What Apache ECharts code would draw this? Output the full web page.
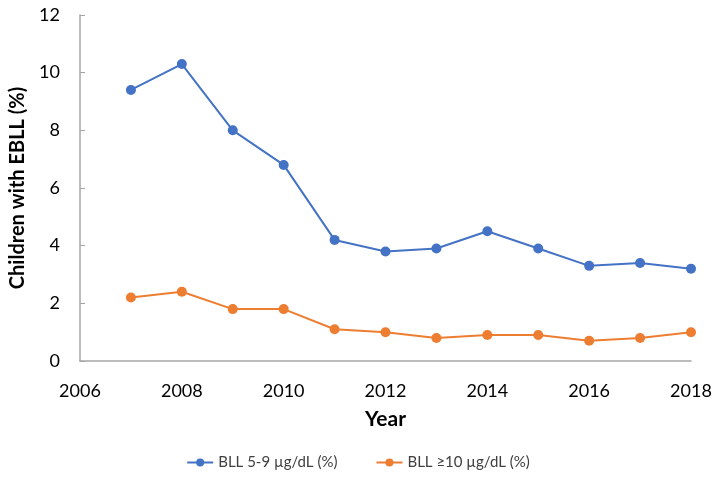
<!DOCTYPE html>
<html>
<head>
<meta charset="utf-8">
<script src="https://cdn.jsdelivr.net/npm/echarts@6/dist/echarts.min.js"></script>
<style>html,body{margin:0;padding:0;background:#fff;}#c{width:716px;height:479px;}</style>
</head>
<body>
<div id="c"></div>
<script>
const years = [2007, 2008, 2009, 2010, 2011, 2012, 2013, 2014, 2015, 2016, 2017, 2018];
const bll59 = [9.4, 10.3, 8.0, 6.8, 4.2, 3.8, 3.9, 4.5, 3.9, 3.3, 3.4, 3.2];
const bll10 = [2.2, 2.4, 1.8, 1.8, 1.1, 1.0, 0.8, 0.9, 0.9, 0.7, 0.8, 1.0];
const seriesNames = ['BLL 5-9 µg/dL (%)', 'BLL ≥10 µg/dL (%)'];
const font = 'Lato, "Open Sans", sans-serif';

const chart = echarts.init(document.getElementById('c'));
chart.setOption({
  animation: false,
  grid: {left: 76, right: 25, top: 15, bottom: 118, containLabel: false},
  legend: {
    bottom: 4, left: 'center', itemGap: 38, itemWidth: 26, itemHeight: 10,
    textStyle: {fontFamily: font, fontSize: 15, color: '#404040'},
    data: seriesNames
  },
  xAxis: {
    type: 'value', min: 2006, max: 2018, interval: 2,
    name: 'Year', nameLocation: 'middle', nameGap: 48,
    nameTextStyle: {fontFamily: font, fontSize: 21, fontWeight: 'bold', color: '#000'},
    axisLine: {lineStyle: {color: '#A6A6A6', width: 1.5}},
    axisTick: {show: false},
    splitLine: {show: false},
    axisLabel: {fontFamily: font, fontSize: 18, color: '#000', margin: 21, formatter: v => String(v)}
  },
  yAxis: {
    type: 'value', min: 0, max: 12, interval: 2,
    name: 'Children with EBLL (%)', nameLocation: 'middle', nameGap: 52,
    nameTextStyle: {fontFamily: font, fontSize: 20, fontWeight: 'bold', color: '#000'},
    axisLine: {show: true, lineStyle: {color: '#A6A6A6', width: 1.5}},
    axisTick: {show: true, inside: true, length: 5, lineStyle: {color: '#A6A6A6'}},
    splitLine: {show: false},
    axisLabel: {fontFamily: font, fontSize: 18, color: '#000', margin: 20}
  },
  series: [
    {
      name: seriesNames[0], type: 'line',
      data: years.map((y, i) => [y, bll59[i]]),
      symbol: 'circle', symbolSize: 10,
      itemStyle: {color: '#4472C4'}, lineStyle: {color: '#4472C4', width: 2}
    },
    {
      name: seriesNames[1], type: 'line',
      data: years.map((y, i) => [y, bll10[i]]),
      symbol: 'circle', symbolSize: 10,
      itemStyle: {color: '#ED7D31'}, lineStyle: {color: '#ED7D31', width: 2}
    }
  ]
});
</script>
</body>
</html>
